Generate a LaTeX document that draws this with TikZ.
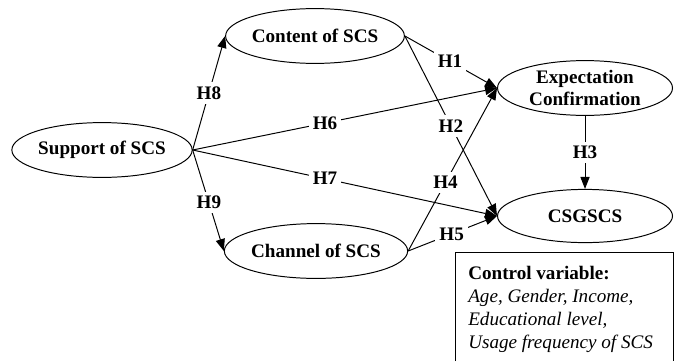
\documentclass[tikz,border=0pt]{standalone}
\usepackage{fontspec}
\setmainfont{Liberation Serif}
\usetikzlibrary{shapes.geometric,arrows.meta}
\tikzset{
	construct/.style={draw, ellipse, line width=0.7pt, inner sep=0pt,
		minimum width=4.35cm, minimum height=1.37cm, align=center,
		font=\fontsize{13.6}{16}\selectfont\bfseries},
	hyp/.style={-{Triangle[length=8.5pt,width=6.5pt]}, line width=0.7pt},
	hlab/.style={fill=white, inner sep=3pt,
		font=\fontsize{13.6}{16}\selectfont\bfseries},
}
\begin{document}
\begin{tikzpicture}
	\useasboundingbox (0, 0) rectangle (16.9, 9.025);
	% Konstrukte
	\node[construct] (sup) at (2.55, 5.275) {Support of SCS};
	\node[construct] (con) at (7.875, 8.125) {Content of SCS};
	\node[construct] (cha) at (7.9, 2.75) {Channel of SCS};
	\node[construct, minimum width=4.375cm] (exp) at (14.625, 6.825) {Expectation\\Confirmation};
	\node[construct, minimum width=4.375cm, minimum height=1.33cm] (csg) at (14.625, 3.625) {CSGSCS};

	% Hypothesen
	\draw[hyp] (sup.east) -- node[hlab, pos=0.5] {H8} (con.west);
	\draw[hyp] (sup.east) -- node[hlab, pos=0.52] {H9} (cha.west);
	\draw[hyp] (sup.east) -- node[hlab, pos=0.435] {H6} (exp.west);
	\draw[hyp] (sup.east) -- node[hlab, pos=0.435] {H7} (csg.west);
	\draw[hyp] (con.east) -- node[hlab, pos=0.49] {H1} (exp.west);
	\draw[hyp] (con.east) -- node[hlab, pos=0.5] {H2} (csg.west);
	\draw[hyp] (cha.east) -- node[hlab, pos=0.42] {H4} (exp.west);
	\draw[hyp] (cha.east) -- node[hlab, pos=0.49] {H5} (csg.west);
	\draw[hyp] (exp.south) -- node[hlab, pos=0.5] {H3} (csg.north);

	% Kontrollvariablen
	\draw[line width=0.7pt] (11.375, 0) |- (16.825, 2.725) -- (16.825, 0);
	\node[anchor=north west, inner sep=0pt, align=left,
		font=\fontsize{13.6}{16.2}\selectfont] (ctrl) at (11.7, 2.37)
		{\textbf{Control variable:}\\
		\textit{Age, Gender, Income,}\\
		\textit{Educational level,}\\
		\textit{Usage frequency of SCS}};
\end{tikzpicture}
\end{document}
